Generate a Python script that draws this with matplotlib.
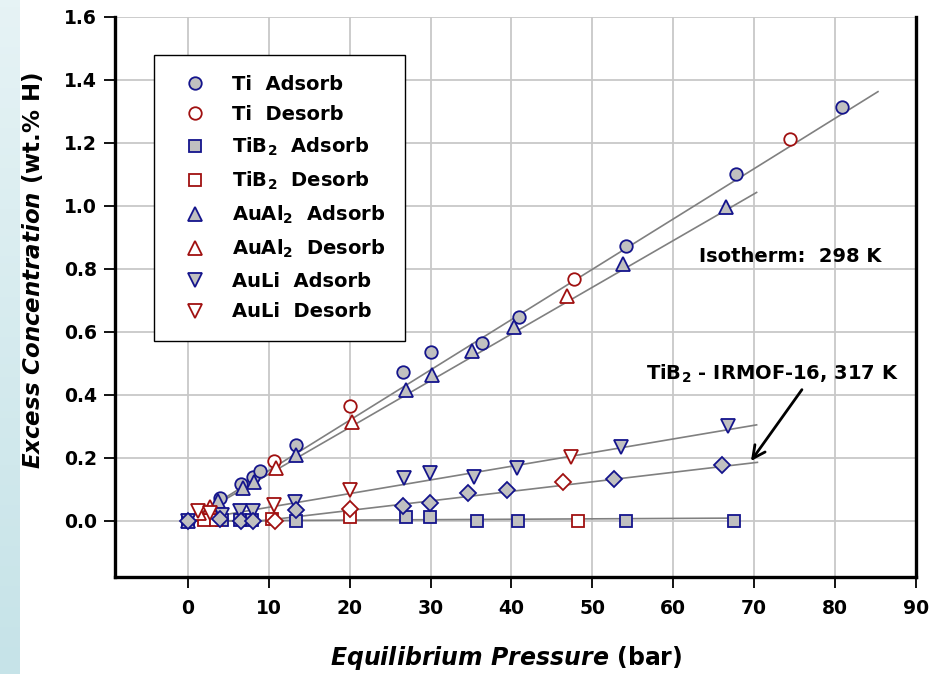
import numpy as np
import matplotlib
matplotlib.use("Agg")
import matplotlib.pyplot as plt

plt.rcParams["font.family"] = ["DejaVu Sans"]
plt.rcParams["font.weight"] = "bold"
plt.rcParams["axes.labelweight"] = "bold"
plt.rcParams["mathtext.fontset"] = "custom"
plt.rcParams["mathtext.rm"] = "DejaVu Sans:bold"
plt.rcParams["mathtext.bf"] = "DejaVu Sans:bold"
plt.rcParams["mathtext.it"] = "DejaVu Sans:bold:italic"

# equilibrium pressure (bar) / excess concentration (wt.% H)
ti_ads_p = [0, 4.0, 6.6, 8.0, 8.9, 13.4, 26.6, 30.0, 36.3, 40.9, 54.2, 67.8, 80.8]
ti_ads_c = [0, 0.072, 0.116, 0.141, 0.157, 0.241, 0.474, 0.535, 0.564, 0.649, 0.873, 1.102, 1.313]
ti_des_p = [10.6, 20.1, 47.7, 74.4]
ti_des_c = [0.191, 0.365, 0.767, 1.213]

tib2_ads_p = [0, 4.2, 6.5, 7.9, 13.4, 27.0, 29.9, 35.8, 40.8, 54.2, 67.5]
tib2_ads_c = [0, 0.002, 0.004, 0.004, 0.001, 0.012, 0.014, 0.0, 0.001, 0.0, 0.0]
tib2_des_p = [2.0, 3.5, 10.4, 20.1, 48.2]
tib2_des_c = [0.004, 0.004, 0.005, 0.012, 0.0]

aual2_ads_p = [0, 3.75, 6.85, 8.2, 13.4, 27.0, 30.2, 35.1, 40.3, 53.8, 66.5]
aual2_ads_c = [0, 0.064, 0.104, 0.125, 0.21, 0.416, 0.463, 0.541, 0.615, 0.816, 0.998]
aual2_des_p = [1.4, 2.7, 10.9, 20.3, 46.9]
aual2_des_c = [0.024, 0.045, 0.169, 0.315, 0.714]

auli_ads_p = [0, 4.2, 6.5, 8.0, 13.3, 26.7, 29.9, 35.4, 40.7, 53.6, 66.8]
auli_ads_c = [0, 0.02, 0.03, 0.033, 0.061, 0.135, 0.151, 0.141, 0.167, 0.234, 0.30]
auli_des_p = [1.3, 2.7, 10.7, 20.1, 47.3]
auli_des_c = [0.03, 0.025, 0.051, 0.098, 0.202]

irmof_ads_p = [0, 4.0, 6.6, 8.0, 13.4, 26.6, 29.9, 34.6, 39.5, 52.7, 66.0]
irmof_ads_c = [0, 0.006, 0.0, 0.0, 0.035, 0.048, 0.058, 0.088, 0.098, 0.132, 0.178]
irmof_des_p = [10.8, 20.1, 46.4]
irmof_des_c = [0.0, 0.038, 0.123]

# trend lines
ti_fit_p, ti_fit_c = [0, 85.3], [0, 1.363]
aual2_fit_p, aual2_fit_c = [0, 70.3], [0, 1.043]
auli_fit_p, auli_fit_c = [0, 70.3], [0, 0.305]
irmof_fit_p, irmof_fit_c = [0, 9.0, 70.4], [0, 0, 0.186]
tib2_fit_p, tib2_fit_c = [0, 67.8], [0, 0.009]

x_ticks = [0, 10, 20, 30, 40, 50, 60, 70, 80, 90]
y_ticks = [0.0, 0.2, 0.4, 0.6, 0.8, 1.0, 1.2, 1.4, 1.6]

blue = "#14148c"
red = "#a01010"
gray = "#c0c0c0"
line_gray = "#808080"

fig = plt.figure(figsize=(9.41, 6.74), dpi=100)

# pale strip on the left edge
strip = fig.add_axes([0, 0, 20 / 941, 1])
grad = np.linspace(0, 1, 100).reshape(-1, 1)
strip.imshow(grad, aspect="auto", cmap=matplotlib.colors.LinearSegmentedColormap.from_list(
    "s", ["#e6f3f5", "#c6e3e8"]), extent=[0, 1, 1, 0])
strip.axis("off")

ax = fig.add_axes([115 / 941, 1 - 577 / 674, (916 - 115) / 941, (577 - 17) / 674])

for p, c in [(ti_fit_p, ti_fit_c), (aual2_fit_p, aual2_fit_c), (auli_fit_p, auli_fit_c),
             (irmof_fit_p, irmof_fit_c), (tib2_fit_p, tib2_fit_c)]:
    ax.plot(p, c, color=line_gray, lw=1.2, zorder=2)

ms = 9
mew = 1.3
ax.plot(ti_ads_p, ti_ads_c, "o", ms=ms, mfc=gray, mec=blue, mew=mew, label="Ti  Adsorb", zorder=3)
ax.plot(ti_des_p, ti_des_c, "o", ms=ms, mfc="white", mec=red, mew=mew, label="Ti  Desorb", zorder=3)
ax.plot(tib2_ads_p, tib2_ads_c, "s", ms=ms - 0.5, mfc=gray, mec=blue, mew=mew,
        label=r"TiB$_2$  Adsorb", zorder=3)
ax.plot(tib2_des_p, tib2_des_c, "s", ms=ms - 0.5, mfc="white", mec=red, mew=mew,
        label=r"TiB$_2$  Desorb", zorder=3)
ax.plot(aual2_ads_p, aual2_ads_c, "^", ms=ms + 0.5, mfc=gray, mec=blue, mew=mew,
        label=r"AuAl$_2$  Adsorb", zorder=3)
ax.plot(aual2_des_p, aual2_des_c, "^", ms=ms + 0.5, mfc="white", mec=red, mew=mew,
        label=r"AuAl$_2$  Desorb", zorder=3)
ax.plot(auli_ads_p, auli_ads_c, "v", ms=ms + 0.5, mfc=gray, mec=blue, mew=mew,
        label="AuLi  Adsorb", zorder=3)
ax.plot(auli_des_p, auli_des_c, "v", ms=ms + 0.5, mfc="white", mec=red, mew=mew,
        label="AuLi  Desorb", zorder=3)
ax.plot(irmof_ads_p, irmof_ads_c, "D", ms=ms - 0.5, mfc=gray, mec=blue, mew=mew, zorder=3)
ax.plot(irmof_des_p, irmof_des_c, "D", ms=ms - 0.5, mfc="white", mec=red, mew=mew, zorder=3)

ax.set_xlim(-9, 90)
ax.set_ylim(-0.178, 1.6)
ax.set_xticks(x_ticks)
ax.set_yticks(y_ticks)
ax.set_yticklabels([f"{v:.1f}" for v in y_ticks])
ax.tick_params(labelsize=13.5, length=8, width=1.3, pad=5)
ax.tick_params(axis="x", pad=8)
ax.grid(color="#c8c8c8", lw=1.3)
ax.set_axisbelow(True)
for side in ["left", "bottom", "right"]:
    ax.spines[side].set_linewidth(2.4)
ax.spines["top"].set_visible(False)

ax.set_xlabel(r"$\mathit{Equilibrium\ Pressure}$ (bar)", fontsize=17)
ax.set_ylabel(r"$\mathit{Excess\ Concentration}$ (wt.% H)", fontsize=16.5)
ax.xaxis.set_label_coords(0.488, -0.119)
ax.yaxis.set_label_coords(-0.087, 0.548)

ax.text(74.5, 0.84, "Isotherm:  298 K", fontsize=14, ha="center", va="center")
ax.text(72.2, 0.467, r"TiB$_2$ - IRMOF-16, 317 K", fontsize=14, ha="center", va="center")
ax.annotate("", xy=(69.4, 0.183), xytext=(76.1, 0.424),
            arrowprops=dict(arrowstyle="->, head_length=0.9, head_width=0.45", lw=2, color="black"))

leg = ax.legend(loc="upper left", bbox_to_anchor=(0.0487, 0.932), borderaxespad=0,
                fontsize=14, numpoints=1, handlelength=2.2, handletextpad=0.8,
                borderpad=1.0, labelspacing=0.6, fancybox=False, framealpha=1)
leg.get_frame().set_edgecolor("black")
leg.get_frame().set_linewidth(1.0)

plt.savefig("out.png", dpi=100)
plt.close()
